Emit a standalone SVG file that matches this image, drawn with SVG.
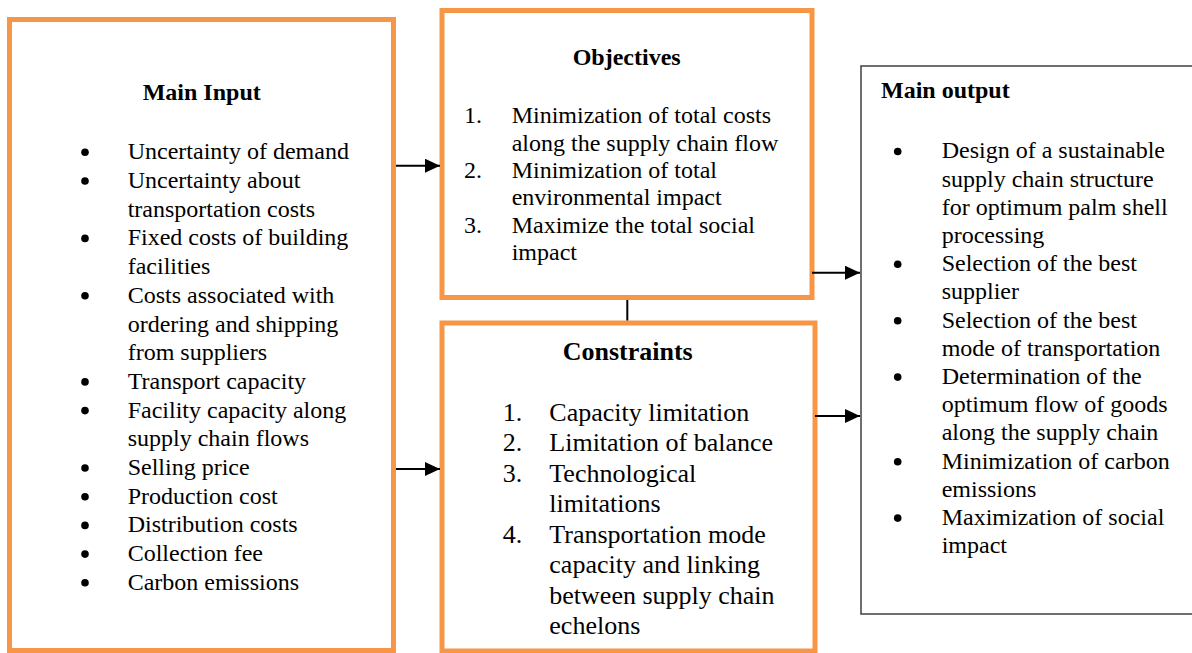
<svg xmlns="http://www.w3.org/2000/svg" width="1192" height="653" viewBox="0 0 1192 653">
<style>
.t{font-family:"Liberation Serif","Times New Roman",serif;font-size:24px;fill:#000}
.h{font-weight:bold}
.c{font-size:26px}
.ob{fill:#fff;stroke:#F79646;stroke-width:5}
.gb{fill:#fff;stroke:#404040;stroke-width:1.5}
.ln{stroke:#000;stroke-width:2;fill:none}
.bl{fill:#000}
</style>
<defs>
<marker id="ah" markerWidth="16" markerHeight="14" refX="15" refY="7" orient="auto" markerUnits="userSpaceOnUse">
<path d="M0,0 L15,7 L0,14 Z" fill="#000"/>
</marker>
</defs>
<rect width="1192" height="653" fill="#fff"/>
<g id="main-input">
<rect class="ob" x="9.5" y="19.5" width="384" height="631"/>
<text class="t h" x="142.7" y="100">Main Input</text>
<g class="bl">
<circle cx="85" cy="152.3" r="3.8"/>
<circle cx="85" cy="181" r="3.8"/>
<circle cx="85" cy="238.4" r="3.8"/>
<circle cx="85" cy="295.8" r="3.8"/>
<circle cx="85" cy="381.9" r="3.8"/>
<circle cx="85" cy="410.6" r="3.8"/>
<circle cx="85" cy="468" r="3.8"/>
<circle cx="85" cy="496.7" r="3.8"/>
<circle cx="85" cy="525.4" r="3.8"/>
<circle cx="85" cy="554.1" r="3.8"/>
<circle cx="85" cy="582.8" r="3.8"/>
</g>
<g class="t">
<text x="127.7" y="159.3">Uncertainty of demand</text>
<text x="127.7" y="188">Uncertainty about</text>
<text x="127.7" y="216.7">transportation costs</text>
<text x="127.7" y="245.4">Fixed costs of building</text>
<text x="127.7" y="274.1">facilities</text>
<text x="127.7" y="302.8">Costs associated with</text>
<text x="127.7" y="331.5">ordering and shipping</text>
<text x="127.7" y="360.2">from suppliers</text>
<text x="127.7" y="388.9">Transport capacity</text>
<text x="127.7" y="417.6">Facility capacity along</text>
<text x="127.7" y="446.3">supply chain flows</text>
<text x="127.7" y="475">Selling price</text>
<text x="127.7" y="503.7">Production cost</text>
<text x="127.7" y="532.4">Distribution costs</text>
<text x="127.7" y="561.1">Collection fee</text>
<text x="127.7" y="589.8">Carbon emissions</text>
</g>
</g>
<g id="objectives">
<rect class="ob" x="442" y="10.5" width="370" height="287"/>
<text class="t h" x="572.7" y="65">Objectives</text>
<g class="t">
<text x="464" y="123.3">1.</text><text x="511.7" y="123.3">Minimization of total costs</text>
<text x="511.7" y="150.6">along the supply chain flow</text>
<text x="464" y="177.9">2.</text><text x="511.7" y="177.9">Minimization of total</text>
<text x="511.7" y="205.2">environmental impact</text>
<text x="464" y="232.5">3.</text><text x="511.7" y="232.5">Maximize the total social</text>
<text x="511.7" y="259.8">impact</text>
</g>
</g>
<g id="constraints">
<rect class="ob" x="442" y="323" width="373" height="328"/>
<text class="t h c" x="562.7" y="360">Constraints</text>
<g class="t c">
<text x="502.7" y="420.7">1.</text><text x="549.3" y="420.7">Capacity limitation</text>
<text x="502.7" y="451.2">2.</text><text x="549.3" y="451.2">Limitation of balance</text>
<text x="502.7" y="481.7">3.</text><text x="549.3" y="481.7">Technological</text>
<text x="549.3" y="512.2">limitations</text>
<text x="502.7" y="542.7">4.</text><text x="549.3" y="542.7">Transportation mode</text>
<text x="549.3" y="573.2">capacity and linking</text>
<text x="549.3" y="603.7">between supply chain</text>
<text x="549.3" y="634.2">echelons</text>
</g>
</g>
<g id="main-output">
<rect class="gb" x="861" y="66" width="340" height="548"/>
<text class="t h" x="881" y="98.3">Main output</text>
<g class="bl">
<circle cx="897.7" cy="151.5" r="3.8"/>
<circle cx="897.7" cy="264.3" r="3.8"/>
<circle cx="897.7" cy="320.7" r="3.8"/>
<circle cx="897.7" cy="377.1" r="3.8"/>
<circle cx="897.7" cy="461.7" r="3.8"/>
<circle cx="897.7" cy="518.1" r="3.8"/>
</g>
<g class="t">
<text x="941.7" y="158.3">Design of a sustainable</text>
<text x="941.7" y="186.5">supply chain structure</text>
<text x="941.7" y="214.7">for optimum palm shell</text>
<text x="941.7" y="242.9">processing</text>
<text x="941.7" y="271.1">Selection of the best</text>
<text x="941.7" y="299.3">supplier</text>
<text x="941.7" y="327.5">Selection of the best</text>
<text x="941.7" y="355.7">mode of transportation</text>
<text x="941.7" y="383.9">Determination of the</text>
<text x="941.7" y="412.1">optimum flow of goods</text>
<text x="941.7" y="440.3">along the supply chain</text>
<text x="941.7" y="468.5">Minimization of carbon</text>
<text x="941.7" y="496.7">emissions</text>
<text x="941.7" y="524.9">Maximization of social</text>
<text x="941.7" y="553.1">impact</text>
</g>
</g>
<g id="connectors">
<line class="ln" x1="396" y1="165.7" x2="440" y2="165.7" marker-end="url(#ah)"/>
<line class="ln" x1="396" y1="469" x2="440" y2="469" marker-end="url(#ah)"/>
<line class="ln" x1="812" y1="272.7" x2="860" y2="272.7" marker-end="url(#ah)"/>
<line class="ln" x1="815" y1="416" x2="860" y2="416" marker-end="url(#ah)"/>
<line class="ln" x1="627.3" y1="300" x2="627.3" y2="320.5"/>
</g>
</svg>
